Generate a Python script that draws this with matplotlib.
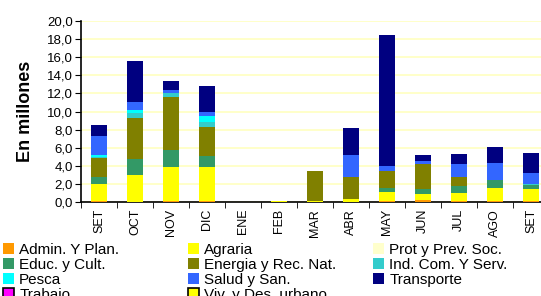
import numpy as np
import matplotlib
matplotlib.use("Agg")
import matplotlib.pyplot as plt
from matplotlib.patches import Patch

plt.rcParams['font.family'] = ['Liberation Sans', 'DejaVu Sans']

months = ["SET", "OCT", "NOV", "DIC", "ENE", "FEB", "MAR", "ABR", "MAY", "JUN", "JUL", "AGO", "SET"]

series_names = ["Admin. Y Plan.", "Agraria", "Prot y Prev. Soc.", "Educ. y Cult.",
                "Energia y Rec. Nat.", "Ind. Com. Y Serv.", "Pesca", "Salud y San.",
                "Transporte", "Trabajo", "Viv. y Des. urbano"]
colors = ["#FF9900", "#FFFF00", "#FFFFCC", "#339966", "#808000", "#33CCCC",
          "#00FFFF", "#3366FF", "#000080", "#FF00FF", "#FFFF00"]

admin      = [0.10, 0.00, 0.15, 0.10, 0.00, 0.00, 0.00, 0.00, 0.10, 0.26, 0.10, 0.10, 0.10]
agraria    = [1.90, 2.98, 3.72, 3.80, 0.00, 0.08, 0.10, 0.37, 1.00, 0.62, 0.90, 1.45, 1.34]
prot       = [0.00] * 13
educ       = [0.77, 1.73, 1.88, 1.22, 0.00, 0.00, 0.00, 0.00, 0.48, 0.52, 0.77, 0.88, 0.44]
energia    = [2.14, 4.61, 5.85, 3.17, 0.00, 0.00, 3.33, 2.39, 1.85, 2.80, 0.99, 0.00, 0.00]
ind_com    = [0.08, 0.51, 0.44, 0.59, 0.00, 0.00, 0.00, 0.00, 0.00, 0.00, 0.00, 0.00, 0.15]
pesca      = [0.21, 0.34, 0.04, 0.66, 0.00, 0.00, 0.00, 0.00, 0.00, 0.00, 0.00, 0.00, 0.00]
salud      = [2.10, 0.88, 0.30, 0.44, 0.00, 0.00, 0.00, 2.43, 0.55, 0.33, 1.44, 1.88, 1.17]
transporte = [1.21, 4.53, 0.99, 2.84, 0.00, 0.00, 0.00, 2.99, 14.47, 0.66, 1.10, 1.77, 2.21]
trabajo    = [0.00] * 13
vivienda   = [0.00] * 13

data = [admin, agraria, prot, educ, energia, ind_com, pesca, salud, transporte, trabajo, vivienda]

fig = plt.figure(figsize=(5.41, 2.96), dpi=100)
ax = fig.add_axes([81 / 541, 1 - 202 / 296, 468 / 541, 181 / 296])

x = np.arange(len(months))
bottom = np.zeros(len(months))
for vals, c in zip(data, colors):
    ax.bar(x, vals, width=0.42, bottom=bottom, color=c, linewidth=0, zorder=3)
    bottom += np.array(vals)

ax.set_xlim(-0.5, len(months) - 0.5)
ax.set_ylim(0, 20)
ax.set_yticks(np.arange(0, 20.1, 2))
ax.set_yticklabels([f"{v:.1f}".replace(".", ",") for v in np.arange(0, 20.1, 2)], fontsize=9.5)
ax.yaxis.grid(True, color="#FFFFC0", linewidth=1.2, zorder=0)

ax.set_xticks(x)
ax.set_xticklabels(months, rotation=90, fontsize=9)
ax.tick_params(axis="x", length=0, pad=5)
ax.set_xticks(np.arange(-0.5, len(months), 1), minor=True)
ax.tick_params(axis="x", which="minor", length=4, color="black")
ax.tick_params(axis="y", length=4, pad=2)

for s in ["top", "right"]:
    ax.spines[s].set_visible(False)
ax.spines["left"].set_linewidth(1.2)
ax.spines["bottom"].set_linewidth(1.2)

ax.set_ylabel("En millones", fontsize=13, fontweight="bold", labelpad=9)

handles = []
for name, c in zip(series_names, colors):
    if name in ("Trabajo", "Viv. y Des. urbano"):
        handles.append(Patch(facecolor=c, edgecolor="black", linewidth=1.2, label=name))
    else:
        handles.append(Patch(facecolor=c, edgecolor="none", label=name))

# reference legend reads row by row in three evenly spaced columns
col_x = [-3, 182, 367]
for j, x0 in enumerate(col_x):
    idx = list(range(j, len(series_names), 3))
    fig.legend([handles[i] for i in idx], [series_names[i] for i in idx],
               loc="upper left", bbox_to_anchor=(x0 / 541, 1 - 237 / 296),
               frameon=False, fontsize=11, handlelength=0.7, handleheight=0.7,
               handletextpad=0.35, labelspacing=0.06, borderaxespad=0)

fig.savefig("out.png", dpi=100)
